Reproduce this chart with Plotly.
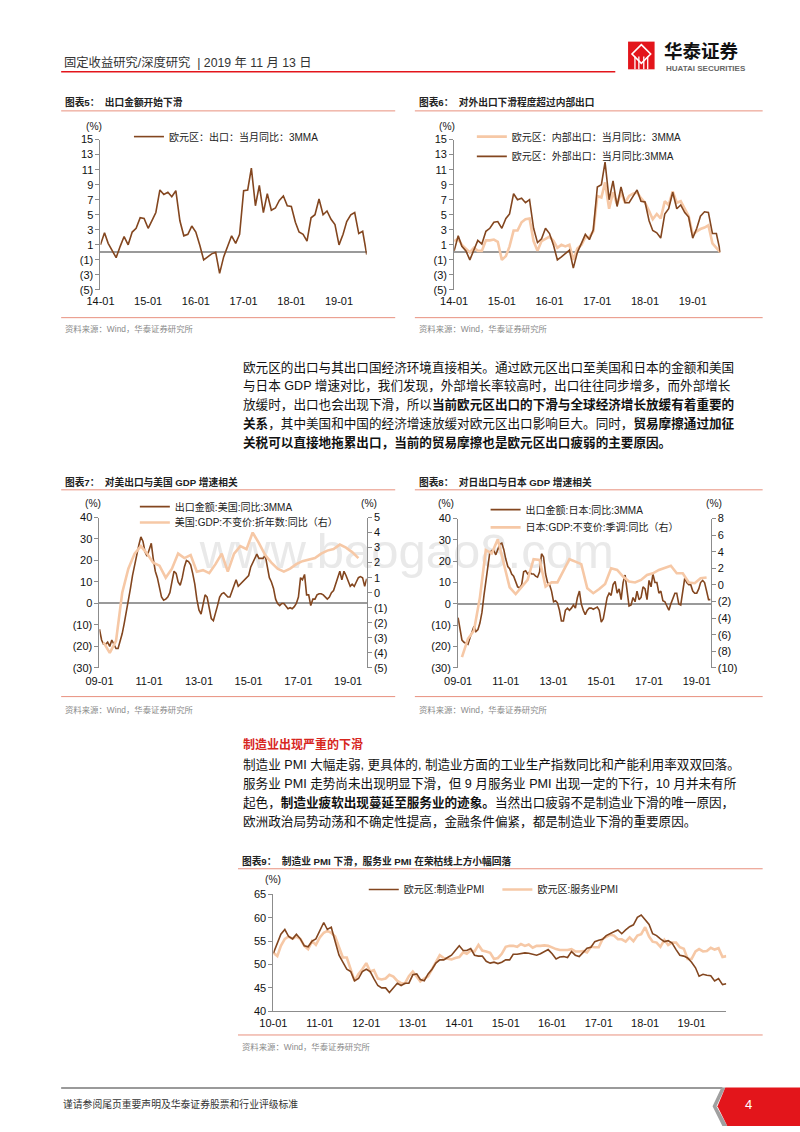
import plotly.graph_objects as go
import pandas as pd

W, H = 800, 1132
def X(px): return px / W
def Y(py): return 1 - py / H

# ---------------- data ----------------
# Chart 5: Euro area exports yoy 3MMA (monthly from 2014-01)
ea_export = [1.0, 2.6, 1.2, 0.3, -0.7, 0.8, 2.1, 1.0, 2.7, 3.2, 4.6, 4.5,
             3.2, 4.3, 5.3, 8.3, 7.7, 8.0, 7.4, 8.2, 4.2, 2.2, 2.4, 3.5,
             2.7, 0.9, -1.0, -0.6, -0.2, 0.0, -2.8, -0.6, 0.9, 2.2, 1.2, 2.4,
             8.2, 8.3, 11.2, 6.2, 8.9, 5.3, 7.8, 5.6, 5.9, 6.9, 7.5, 6.2,
             6.1, 4.0, 2.7, 2.4, 1.5, 4.6, 5.0, 7.1, 5.0, 5.5, 4.4, 3.7,
             1.0, 2.4, 4.1, 5.0, 5.3, 2.5, 2.8, -0.3]
# Chart 6: intra / extra euro area exports yoy 3MMA (monthly from 2014-01)
ea_intra = [1.5, 1.8, 1.0, 0.5, 0.0, 0.6, 0.2, 0.2, 1.6, 1.6, 1.7, 1.4,
            -1.0, -0.5, 0.8, 2.9, 2.9, 4.0, 4.4, 4.5, 1.5, 0.2, 1.5, 1.8,
            2.1, 1.5, 0.6, 1.0, 0.8, 1.0, -1.0, 0.5, 1.0, 2.0, 2.0, 2.8,
            7.5, 7.3, 9.3, 5.8, 8.0, 6.4, 8.0, 6.6, 7.5, 7.8, 8.0, 7.2,
            6.6, 5.5, 4.4, 5.1, 4.5, 6.8, 6.3, 8.1, 6.6, 6.8, 5.7, 4.8,
            2.3, 2.8, 3.1, 3.3, 3.6, 1.2, 0.6, 0.0]
ea_extra = [0.2, 2.2, 0.8, 0.2, -1.0, 0.4, 1.6, 1.1, 2.8, 3.2, 4.0, 4.1,
            3.2, 4.5, 5.1, 7.8, 7.0, 7.2, 6.6, 7.0, 3.2, 1.3, 1.8, 3.2,
            2.5, 0.9, -1.0, -0.6, -0.1, 0.3, -2.1, 0.0, 1.2, 2.4, 1.7, 3.0,
            8.7, 9.0, 12.0, 7.0, 9.5, 6.1, 8.7, 6.6, 6.6, 7.5, 8.3, 6.8,
            6.7, 4.2, 2.9, 2.6, 1.9, 5.1, 5.8, 8.0, 5.8, 6.3, 5.3, 4.7,
            1.9, 3.2, 4.8, 5.4, 5.3, 2.5, 2.5, 0.0]
# Chart 7: exports to US yoy 3MMA (monthly from 2009-01), US real GDP yoy (quarterly from 2009-03)
us_export = [-12, -17, -19, -19, -18, -20, -17, -19, -21, -21, -18, -14,
             -9, -4, 2, 7, 13, 18, 22, 27, 31, 29, 24, 22,
             25, 28, 21, 15, 12, 8, 3, 1.5, 2, 3, 5, 10,
             15, 14, 10, 8.5, 12, 17, 20, 19.5, 18, 14, 9, 2,
             -3, -5, -1, 4, 3, -3, -7, -8, -5, -1, 3, 4.5,
             5, 4, 3, 3, 6, 9, 11, 8, 9, 10, 11, 12,
             13, 17, 19, 21, 23, 21, 21, 21, 22.5, 17, 12, 10,
             7, 2, 0, -1, 0, 0, -1, -2.5, -2, -2.5, -1.5, 0,
             3, 12, 11, 13.5, 4, 4, -1, 2, 2, 4, 4.5, 4.5,
             4, 3, 2, 3, 5, 6, 9, 11, 15, 11, 15, 13,
             10, 8, 9, 8, 10, 12, 12.5, 12, 8, 11.5]
us_gdp = [-3.3, -4.0, -3.2, 0.0, 1.6, 2.6, 3.1, 2.6, 2.0, 1.8, 1.0, 1.6,
          2.6, 2.3, 2.5, 1.4, 1.5, 1.3, 1.9, 2.6, 1.4, 2.6, 3.1, 2.9,
          4.0, 3.3, 2.5, 2.0, 1.6, 1.4, 1.6, 1.9, 2.1, 2.2, 2.3, 2.6,
          2.8, 2.9, 3.2, 3.0, 2.7, 2.3]
# Chart 8: exports to Japan yoy 3MMA (monthly from 2009-01), Japan real GDP yoy (quarterly from 2009-03)
jp_export = [-6.5, -12, -17, -18, -18.5, -19, -16, -13, -10.5, -13, -12, -9,
             -4, 4, 11, 19, 24, 25, 25, 23, 25.5, 28, 28.5, 25.5,
             21, 17.5, 16.5, 14, 13, 10.5, 8, 7.5, 9, 15, 15.5, 14,
             15, 14, 14, 13, 12.5, 15, 23.5, 22, 14, 10, 9, 6,
             1, 1.5, 0.5, -3, -8, -8, -3, -2, -3, -2, -0.5, -2,
             3, 6, 0, -3, -5, -3, -2, -2, -2.5, -2, -1.5, -3,
             -8.5, -7, -2, 3, 5, 4, 9, 10.5, 5, 7, 2, 10,
             13.5, 5, -1, -0.5, 3, 1, 6, 2, 3, 8, 7, 2,
             11, 8, 14, 10, 10, 5, 6, 1.5, 1, -1, -3, 0,
             3, 5, 5, 0, -0.5, 6, 12, 10, 9, 9, 6, 5,
             5, 7, 10, 11, 10, 6, 2, 2]
jp_gdp = [-8.7, -6.5, -5.5, -1.5, 4.2, 3.8, 5.5, 2.5, -0.3, -1.1, -0.3, 0.6,
          3.1, 3.0, -0.2, 0.3, 0.3, 1.7, 3.1, 2.8, 2.5, -0.4, -1.0, -0.5,
          0.1, 2.0, 1.8, 1.0, 0.4, 0.3, 0.6, 1.2, 1.4, 1.8, 2.1, 2.3,
          1.4, 1.4, 0.3, 0.2, 0.8, 0.9]
# Chart 9: euro area PMI (monthly from 2010-01)
pmi_mfg = [52.4, 54.5, 56.5, 57.5, 56, 55.5, 56.5, 55.5, 54, 53.8, 55, 55.5,
           57.3, 59, 57.5, 58, 55, 52, 50.5, 49, 48.5, 46.5, 47, 48.5,
           49, 48.5, 47, 45.5, 45, 45, 44, 45, 46, 45.5, 46, 46,
           47.8, 48, 46.8, 46.5, 48, 49, 50.3, 51, 51, 51.5, 52, 53,
           54, 53, 53, 53.4, 52, 51.8, 51.8, 50.7, 50.3, 50.5, 50.2, 50.5,
           51, 51, 52.2, 52.2, 52.3, 52.5, 52.4, 52.2, 52, 52.3, 52.8, 53.2,
           52.3, 51.2, 51.6, 51.7, 51.5, 52.8, 52, 51.7, 52.6, 53.5, 53.7, 54.9,
           55.2, 55.4, 56.2, 56.7, 57, 57.4, 56.6, 57.4, 58.1, 58.5, 60.1, 60.6,
           59.6, 58.6, 56.6, 56.2, 55.5, 54.9, 55.1, 54.6, 53.2, 52, 51.8, 51.4,
           50.5, 49.3, 47.5, 47.9, 47.7, 47.6, 46.5, 47, 45.7, 45.9]
pmi_svc = [52.5, 51.8, 54, 55.5, 56, 55.5, 56, 55.5, 54, 53.3, 55, 54.2,
           55.8, 56.8, 57.2, 56.8, 56, 53.8, 51.5, 51.5, 49, 46.5, 48, 49,
           50.3, 48.5, 48.8, 47, 46.8, 47, 47.8, 47.4, 46.5, 46, 46, 47.5,
           48.5, 47.5, 46.4, 47, 47.5, 49, 50.5, 52, 51.4, 51.3, 51.1, 51.4,
           51.6, 52.6, 52.3, 53, 52.8, 54.2, 53, 52.8, 52.5, 51.2, 51.4, 52.3,
           53.8, 54, 54, 53.8, 54.4, 54, 54.3, 53.6, 54, 54, 54.1, 54,
           53.6, 53.3, 53.1, 53.1, 53.1, 53.3, 52.8, 52.8, 52.9, 52.6, 53.8, 53.7,
           53.7, 55.5, 56, 56.4, 56.2, 55.4, 55.4, 54.9, 55.8, 55, 56.2, 56.5,
           58, 56, 54.9, 54.7, 53.8, 55.3, 54.2, 54.7, 54.7, 53.7, 53.4, 51.2,
           51.2, 52.8, 53.3, 52.8, 52.9, 53.6, 53.2, 53.5, 51.6, 51.8]

# tick labels
x14_ticks = ["14-01", "15-01", "16-01", "17-01", "18-01", "19-01"]
x09_ticks = ["09-01", "11-01", "13-01", "15-01", "17-01", "19-01"]
x10_ticks = ["10-01", "11-01", "12-01", "13-01", "14-01", "15-01", "16-01", "17-01", "18-01", "19-01"]
y56_vals = [-5, -3, -1, 1, 3, 5, 7, 9, 11, 13, 15]
y56_text = ["(5)", "(3)", "(1)", "1", "3", "5", "7", "9", "11", "13", "15"]
y78_vals = [-30, -20, -10, 0, 10, 20, 30, 40]
y78_text = ["(30)", "(20)", "(10)", "0", "10", "20", "30", "40"]
y7r_vals = [-5, -4, -3, -2, -1, 0, 1, 2, 3, 4, 5]
y7r_text = ["(5)", "(4)", "(3)", "(2)", "(1)", "0", "1", "2", "3", "4", "5"]
y8r_vals = [-10, -8, -6, -4, -2, 0, 2, 4, 6, 8]
y8r_text = ["(10)", "(8)", "(6)", "(4)", "(2)", "0", "2", "4", "6", "8"]
y9_vals = [40, 45, 50, 55, 60, 65]
y9_text = ["40", "45", "50", "55", "60", "65"]

def tickdates(labels):
    return ["20" + t[:2] + "-" + t[3:] + "-01" for t in labels]

d14 = pd.date_range("2014-01-01", periods=len(ea_export), freq="MS")
d09a = pd.date_range("2009-01-01", periods=len(us_export), freq="MS")
d09q_us = pd.date_range("2009-03-01", periods=len(us_gdp), freq="3MS")
d09b = pd.date_range("2009-01-01", periods=len(jp_export), freq="MS")
d09q_jp = pd.date_range("2009-03-01", periods=len(jp_gdp), freq="3MS")
d10 = pd.date_range("2010-01-01", periods=len(pmi_mfg), freq="MS")

DARK = "#83461F"
LIGHT = "#F6C8A6"
RED = "#E3151B"
SALMON = "#E8907E"
LAT = "Liberation Sans, Noto Sans CJK SC"

fig = go.Figure()
def line(x, y, name, color, width, xa, ya, leg):
    fig.add_trace(go.Scatter(x=x, y=y, name=name, mode="lines",
                             line=dict(color=color, width=width),
                             xaxis=xa, yaxis=ya, legend=leg, hoverinfo="skip"))

line(d14, ea_export, "欧元区：出口：当月同比：3MMA", DARK, 1.6, "x", "y", "legend")
line(d14, ea_intra, "欧元区：内部出口：当月同比：3MMA", LIGHT, 2.6, "x2", "y2", "legend2")
line(d14, ea_extra, "欧元区：外部出口：当月同比:3MMA", DARK, 1.6, "x2", "y2", "legend3")
line(d09q_us, us_gdp, "美国:GDP:不变价:折年数:同比（右）", LIGHT, 2.6, "x3", "y4", "legend5")
line(d09a, us_export, "出口金额:美国:同比:3MMA", DARK, 1.6, "x3", "y3", "legend4")
line(d09q_jp, jp_gdp, "日本:GDP:不变价:季调:同比（右）", LIGHT, 2.6, "x5", "y6", "legend7")
line(d09b, jp_export, "出口金额:日本:同比:3MMA", DARK, 1.6, "x5", "y5", "legend6")
line(d10, pmi_svc, "欧元区:服务业PMI", LIGHT, 2.6, "x7", "y7", "legend9")
line(d10, pmi_mfg, "欧元区:制造业PMI", DARK, 1.6, "x7", "y7", "legend8")

TICKFONT = dict(family=LAT, size=11, color="#111")
def xax(px0, px1, rng, labels, anchor, showline=False, standoff=2):
    return dict(domain=[X(px0), X(px1)], range=rng, type="date",
                tickvals=tickdates(labels), ticktext=labels, showgrid=False,
                zeroline=False, showline=showline, linecolor="#8c8c8c", linewidth=1,
                ticks="", tickfont=TICKFONT, anchor=anchor, fixedrange=True,
                ticklabelstandoff=standoff)

def yax(py_top, py_bot, rng, vals, text, anchor, zero=True, side="left", overlay=None):
    d = dict(domain=[Y(py_bot), Y(py_top)], range=rng, tickvals=vals, ticktext=text,
             showgrid=False, zeroline=zero, zerolinecolor="#9a9a9a", zerolinewidth=1.5,
             showline=True, linecolor="#8c8c8c", linewidth=1, ticks="outside",
             ticklen=4, tickcolor="#8c8c8c", tickfont=TICKFONT, anchor=anchor,
             side=side, fixedrange=True)
    if overlay:
        d["overlaying"] = overlay
    return d

def legend(px, py):
    # legend text starts ~40px right of the legend's x
    return dict(x=X(px - 40), y=Y(py), xanchor="left", yanchor="middle",
                bgcolor="rgba(0,0,0,0)", borderwidth=0, itemwidth=30,
                font=dict(family=LAT, size=10, color="#222"))

ann = []
def text(px, py, s, size=10, color="#222", family=LAT, anchor="left"):
    ann.append(dict(x=X(px), y=Y(py), xref="paper", yref="paper", text=s,
                    showarrow=False, xanchor=anchor, yanchor="middle",
                    font=dict(family=family, size=size, color=color)))

shapes = []
def hline(x0, x1, y, color, width):
    shapes.append(dict(type="line", xref="paper", yref="paper", x0=X(x0), x1=X(x1),
                       y0=Y(y), y1=Y(y), line=dict(color=color, width=width)))

def path(pts, fill, color=None, width=0, layer="above"):
    s = "M " + " L ".join(f"{X(a):.5f},{Y(b):.5f}" for a, b in pts) + " Z"
    shapes.append(dict(type="path", xref="paper", yref="paper", path=s,
                       fillcolor=fill, line=dict(color=color or fill, width=width), layer=layer))

# ---- header ----
text(49, 57, "固定收益研究/深度研究 &nbsp;| 2019 年 11 月 13 日", size=12.3, color="#333")
hline(48, 612, 66.5, RED, 1.6)
# logo
path([(625, 36), (652, 36), (652, 64), (625, 64)], RED)
shapes.append(dict(type="path", xref="paper", yref="paper",
                   path=f"M {X(638.5)},{Y(39)} L {X(648)},{Y(48.5)} L {X(638.5)},{Y(58)} L {X(629)},{Y(48.5)} Z",
                   fillcolor="rgba(0,0,0,0)", line=dict(color="white", width=1.6)))
for vx in (632, 636, 641, 645):
    shapes.append(dict(type="line", xref="paper", yref="paper", x0=X(vx), x1=X(vx),
                       y0=Y(51), y1=Y(64), line=dict(color="white", width=1.3)))
text(660, 46, "<b>华泰证券</b>", size=18.5, color="#111")
text(662, 63, "<b>HUATAI SECURITIES</b>", size=8, color="#666")

# ---- chart titles / rules / sources ----
SRC = "资料来源：Wind，华泰证券研究所"
text(50, 97, "<b>图表5：  出口金额开始下滑</b>", size=9.7)
text(410, 97, "<b>图表6：  对外出口下滑程度超过内部出口</b>", size=9.7)
hline(48, 388, 106, SALMON, 1)
hline(408, 762, 106, SALMON, 1)
hline(48, 388, 315, SALMON, 1)
hline(408, 762, 315, SALMON, 1)
text(50, 326, SRC, size=8.4, color="#8a8a8a")
text(410, 326, SRC, size=8.4, color="#8a8a8a")

text(50, 481, "<b>图表7：  对美出口与美国 GDP 增速相关</b>", size=9.7)
text(410, 481, "<b>图表8：  对日出口与日本 GDP 增速相关</b>", size=9.7)
hline(48, 388, 489, SALMON, 1)
hline(408, 762, 489, SALMON, 1)
hline(48, 388, 698, SALMON, 1)
hline(408, 762, 698, SALMON, 1)
text(50, 712, SRC, size=8.4, color="#8a8a8a")
text(410, 712, SRC, size=8.4, color="#8a8a8a")

text(230, 864, "<b>图表9：  制造业 PMI 下滑，服务业 PMI 在荣枯线上方小幅回落</b>", size=9.7)
hline(228, 762, 872, SALMON, 1)
hline(228, 762, 1040, SALMON, 1)
text(230, 1052, SRC, size=8.4, color="#8a8a8a")

# (%) unit labels
for (px, py) in [(81, 122), (441, 122), (80, 503), (440, 503), (264, 883), (361, 503), (712, 503)]:
    text(px, py, "(%)", size=10.3, anchor="center", color="#222")

# ---- body paragraphs ----
P = 12.6
para1 = [
    "欧元区的出口与其出口国经济环境直接相关。通过欧元区出口至美国和日本的金额和美国",
    "与日本 GDP 增速对比，我们发现，外部增长率较高时，出口往往同步增多，而外部增长",
    "放缓时，出口也会出现下滑，所以<b>当前欧元区出口的下滑与全球经济增长放缓有着重要的</b>",
    "<b>关系</b>，其中美国和中国的经济增速放缓对欧元区出口影响巨大。同时，<b>贸易摩擦通过加征</b>",
    "<b>关税可以直接地拖累出口，当前的贸易摩擦也是欧元区出口疲弱的主要原因。</b>",
]
for i, s in enumerate(para1):
    text(231, 365 + i * 19, s, size=P, color="#111")

text(231, 746, "<b>制造业出现严重的下滑</b>", size=12, color="#D7261E")
para2 = [
    "制造业 PMI 大幅走弱, 更具体的, 制造业方面的工业生产指数同比和产能利用率双双回落。",
    "服务业 PMI 走势尚未出现明显下滑，但 9 月服务业 PMI 出现一定的下行，10 月并未有所",
    "起色，<b>制造业疲软出现蔓延至服务业的迹象。</b>当然出口疲弱不是制造业下滑的唯一原因，",
    "欧洲政治局势动荡和不确定性提高，金融条件偏紧，都是制造业下滑的重要原因。",
]
for i, s in enumerate(para2):
    text(231, 767 + i * 19, s, size=P, color="#111")

# ---- watermark (behind traces) ----
shapes.append(dict(type="rect", xref="paper", yref="paper", x0=X(186), x1=X(640),
                   y0=Y(570), y1=Y(522), line=dict(width=0), fillcolor="rgba(0,0,0,0)",
                   layer="below",
                   label=dict(text="www.baogao8.com", textposition="middle left", padding=0,
                              font=dict(family="Liberation Sans", size=49, color="#E9E9E9"))))

# ---- footer ----
hline(48, 721, 1093.5, "#9a9a9a", 2)
path([(720, 1093), (711, 1112), (721, 1132), (726, 1132), (715, 1112), (724, 1093)], "#a0a0a0")
path([(724, 1093), (800, 1093), (800, 1132), (726, 1132), (716, 1112)], RED)
text(748, 1110, "4", size=13, color="white", anchor="center")
text(48, 1110, "谨请参阅尾页重要声明及华泰证券股票和行业评级标准", size=9.8, color="#333")

fig.update_layout(
    width=W, height=H, autosize=False,
    margin=dict(l=0, r=0, t=0, b=0),
    paper_bgcolor="white", plot_bgcolor="rgba(0,0,0,0)",
    showlegend=True,
    xaxis=xax(88, 359, ["2014-01-01", "2019-08-01"], x14_ticks, "y", standoff=3),
    yaxis=yax(135, 287, [-5, 15], y56_vals, y56_text, "x"),
    xaxis2=xax(448, 719, ["2014-01-01", "2019-08-01"], x14_ticks, "y2", standoff=3),
    yaxis2=yax(135, 287, [-5, 15], y56_vals, y56_text, "x2"),
    xaxis3=xax(87, 359, ["2009-01-01", "2019-10-01"], x09_ticks, "y3", standoff=5),
    yaxis3=yax(517, 669, [-30, 40], y78_vals, y78_text, "x3"),
    yaxis4=yax(517, 669, [-5, 5], y7r_vals, y7r_text, "x3", zero=False, side="right", overlay="y3"),
    xaxis5=xax(452, 709, ["2009-01-01", "2019-08-01"], x09_ticks, "y5", standoff=5),
    yaxis5=yax(518, 669, [-30, 40], y78_vals, y78_text, "x5"),
    yaxis6=yax(518, 669, [-10, 8], y8r_vals, y8r_text, "x5", zero=False, side="right", overlay="y5"),
    xaxis7=xax(264, 725, ["2010-01-01", "2019-10-01"], x10_ticks, "y7", showline=True, standoff=2),
    yaxis7=yax(898, 1016, [40, 65], y9_vals, y9_text, "x7", zero=False),
    legend=legend(157, 132),
    legend2=legend(506, 132),
    legend3=legend(506, 152),
    legend4=legend(163, 506),
    legend5=legend(163, 522),
    legend6=legend(520, 509),
    legend7=legend(520, 527),
    legend8=legend(396, 893),
    legend9=legend(532, 893),
    annotations=ann,
    shapes=shapes,
)

fig.write_html("out.html", config={"displayModeBar": False},
               post_script="document.documentElement.style.overflow='hidden';"
                           "document.body.style.margin='0';document.body.style.overflow='hidden';")
